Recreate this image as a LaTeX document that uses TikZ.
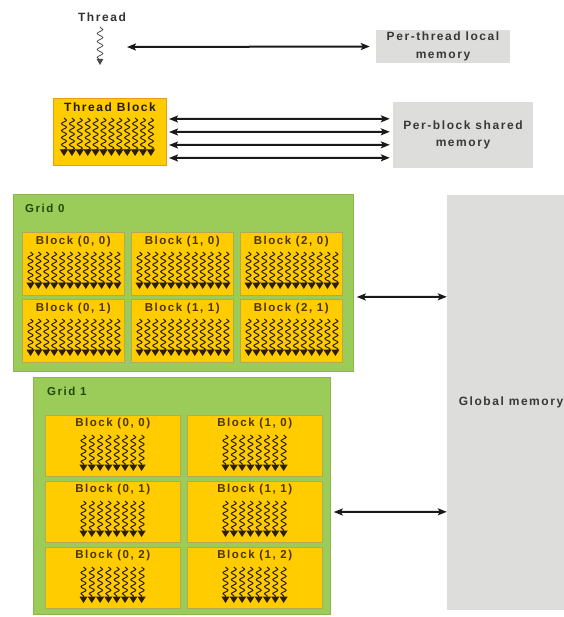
\documentclass[tikz,border=0pt]{standalone}
\usepackage{fontspec}
\newfontfamily\diafont{Liberation Sans}[LetterSpace=13]
\usepackage{xcolor}
\usetikzlibrary{positioning, calc, arrows.meta, decorations.pathmorphing}

\definecolor{blockyellow}{HTML}{FFCC00}
\definecolor{blockedge}{HTML}{B4A850}
\definecolor{tblockedge}{HTML}{E89A10}
\definecolor{gridgreen}{HTML}{9BCB58}
\definecolor{gridedge}{HTML}{8CB64C}
\definecolor{memgray}{HTML}{DDDDDB}
\definecolor{threadbrown}{HTML}{2E1E00}
\definecolor{gridtext}{HTML}{1E4A0C}
\definecolor{blocktext}{HTML}{4A3400}

\begin{document}
\begin{tikzpicture}[
    x=1pt, y=-1pt,
    memnode/.style={fill=memgray, align=center, inner sep=0pt, text=black!78, font=\diafont\bfseries\fontsize{12}{17.5}\selectfont},
    gridnode/.style={fill=gridgreen, draw=gridedge, line width=0.8pt, anchor=north west, inner sep=0pt},
    blocknode/.style={fill=blockyellow, draw=blockedge, line width=0.6pt, anchor=north west, inner sep=0pt},
    gridlbl/.style={anchor=west, inner sep=0pt, text=gridtext, font=\diafont\bfseries\fontsize{11.5}{13}\selectfont},
    blocklbl/.style={inner sep=0pt, text=blocktext, font=\diafont\bfseries\fontsize{11.5}{13}\selectfont},
    tblbl/.style={inner sep=0pt, text=black!80!brown, font=\diafont\bfseries\fontsize{12}{14}\selectfont},
    thread/.style={draw=threadbrown, line width=1pt, decorate,
        decoration={snake, amplitude=2.5pt, segment length=7pt, post length=4pt},
        -{Triangle[length=6.5pt, width=8pt]}},
    onethread/.style={draw=black!70, line width=0.8pt, decorate,
        decoration={snake, amplitude=2.8pt, segment length=8pt, post length=4pt},
        -{Triangle[length=6pt, width=6.5pt]}},
    arrow/.style={{Stealth[length=9pt, width=7pt, inset=2pt]}-{Stealth[length=9pt, width=7pt, inset=2pt]}, line width=2pt, draw=black!90}
]
\useasboundingbox (0,0) rectangle (563,617);
\fill[white] (0,0) rectangle (563,617);

% one thread and its local memory
\node[tblbl, text=black!80] (threadlbl) at (102,17) {Thread};
\coordinate (thrtop) at (100,27);
\coordinate (thrend) at (127,47);
\draw[onethread] (thrtop) -- ++(0,38);
\node[memnode, minimum width=134pt, minimum height=33pt] (localmem) at (443,46.5) {Per-thread local\\memory};
\draw[arrow, shorten >=6pt] (thrend) -- (localmem.west);

% thread block and shared memory
\node[fill=blockyellow, draw=tblockedge, line width=1pt, anchor=north west, minimum width=113pt, minimum height=67pt, inner sep=0pt] (tblock) at (53,98) {};
\node[tblbl] (tblocklbl) at ($(tblock.north)+(0,9)$) {Thread Block};
\foreach \k in {0,...,11}
    \draw[thread] ($(tblock.north west)+({11+7.9*\k},20)$) -- ++(0,38);
\node[memnode, minimum width=140pt, minimum height=66pt] (sharedmem) at (463,135) {Per-block shared\\memory};
\foreach \dy in {21,34,47,60}
    \draw[arrow] ($(tblock.north east)+(2,\dy)$) -- ($(sharedmem.north west)+(-3,\dy-4)$);

% grid 0
\node[gridnode, minimum width=340pt, minimum height=177pt] (grid0) at (13,194) {};
\node[gridlbl] (grid0lbl) at ($(grid0.north west)+(12,14)$) {Grid 0};
\foreach \c in {0,1,2}
    \foreach \r in {0,1} {
        \node[blocknode, minimum width=102pt, minimum height=63pt] (g0b\c\r) at ({22+109*\c},{232+67*\r}) {};
        \node[blocklbl] (g0l\c\r) at ($(g0b\c\r.north)+(0,10)$) {Block (\c, \r)};
        \foreach \k in {0,...,11}
            \draw[thread] ($(g0b\c\r.north west)+({8.5+7.9*\k},20)$) -- ++(0,37);
    }

% grid 1
\node[gridnode, minimum width=297pt, minimum height=237pt] (grid1) at (33,377) {};
\node[gridlbl] (grid1lbl) at ($(grid1.north west)+(14,14)$) {Grid 1};
\foreach \c in {0,1}
    \foreach \r in {0,1,2} {
        \node[blocknode, minimum width=135pt, minimum height=61pt] (g1b\c\r) at ({45+142*\c},{415+66*\r}) {};
        \node[blocklbl] (g1l\c\r) at ($(g1b\c\r.north)+(0,9)$) {Block (\c, \r)};
        \foreach \k in {0,...,7}
            \draw[thread] ($(g1b\c\r.north west)+({38.5+8.3*\k},20)$) -- ++(0,36);
    }

% global memory
\node[memnode, minimum width=128pt, minimum height=415pt] (globalmem) at (511,402.5) {Global memory};
\draw[arrow] ($(grid0.north east)+(3,103)$) -- ($(globalmem.north west)+(0,102)$);
\draw[arrow] ($(grid1.north east)+(3,135)$) -- ($(globalmem.north west)+(0,317)$);
\end{tikzpicture}
\end{document}
